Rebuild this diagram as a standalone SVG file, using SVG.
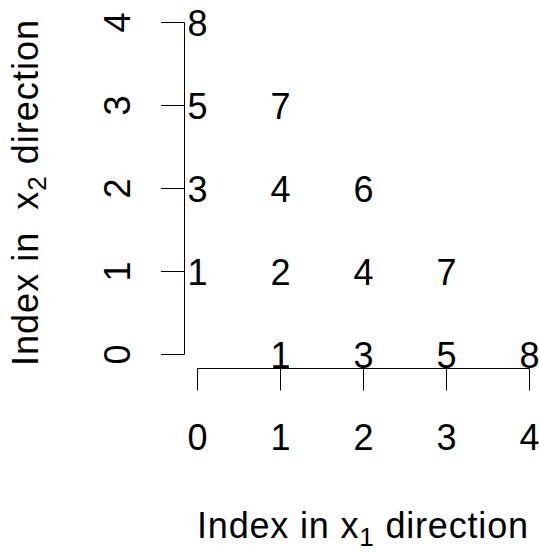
<svg xmlns="http://www.w3.org/2000/svg" width="539" height="552" viewBox="0 0 539 552">
<style>
text{font-family:"Liberation Sans",Arial,Helvetica,sans-serif;font-size:36px;fill:#000}
.c{text-anchor:middle}
.ax{stroke:#000;stroke-width:1;fill:none}
.sub{font-size:26px}
</style>
<rect width="539" height="552" fill="#fff"/>
<g id="axes" class="ax">
<path d="M197.5,368.5H529.5M197.5,368.5V390.5M280.5,368.5V390.5M363.5,368.5V390.5M446.5,368.5V390.5M529.5,368.5V390.5"/>
<path d="M184.5,22.5V354.5M161,354.5H184.5M161,271.5H184.5M161,188.5H184.5M161,105.5H184.5M161,22.5H184.5"/>
</g>
<g id="xticklabels" class="c">
<text x="197.5" y="450">0</text>
<text x="280.5" y="450">1</text>
<text x="363.5" y="450">2</text>
<text x="446.5" y="450">3</text>
<text x="529.5" y="450">4</text>
</g>
<g id="yticklabels" class="c">
<text transform="translate(129.5,354.5) rotate(-90)">0</text>
<text transform="translate(129.5,271.5) rotate(-90)">1</text>
<text transform="translate(129.5,188.5) rotate(-90)">2</text>
<text transform="translate(129.5,105.5) rotate(-90)">3</text>
<text transform="translate(129.5,22.5) rotate(-90)">4</text>
</g>
<g id="cells" class="c">
<text x="197.5" y="35.5">8</text>
<text x="197.5" y="118.5">5</text>
<text x="280.5" y="118.5">7</text>
<text x="197.5" y="201.5">3</text>
<text x="280.5" y="201.5">4</text>
<text x="363.5" y="201.5">6</text>
<text x="197.5" y="284.5">1</text>
<text x="280.5" y="284.5">2</text>
<text x="363.5" y="284.5">4</text>
<text x="446.5" y="284.5">7</text>
<text x="280.5" y="367.5">1</text>
<text x="363.5" y="367.5">3</text>
<text x="446.5" y="367.5">5</text>
<text x="529.5" y="367.5">8</text>
</g>
<g id="xtitle">
<text x="197" y="538" textLength="331" lengthAdjust="spacing">Index in x<tspan class="sub" dy="8">1</tspan><tspan dy="-8"> direction</tspan></text>
</g>
<g id="ytitle">
<text transform="translate(38,366) rotate(-90)" xml:space="preserve" style="white-space:pre" textLength="346" lengthAdjust="spacing">Index in  x<tspan class="sub" dy="8">2</tspan><tspan dy="-8"> direction</tspan></text>
</g>
</svg>
